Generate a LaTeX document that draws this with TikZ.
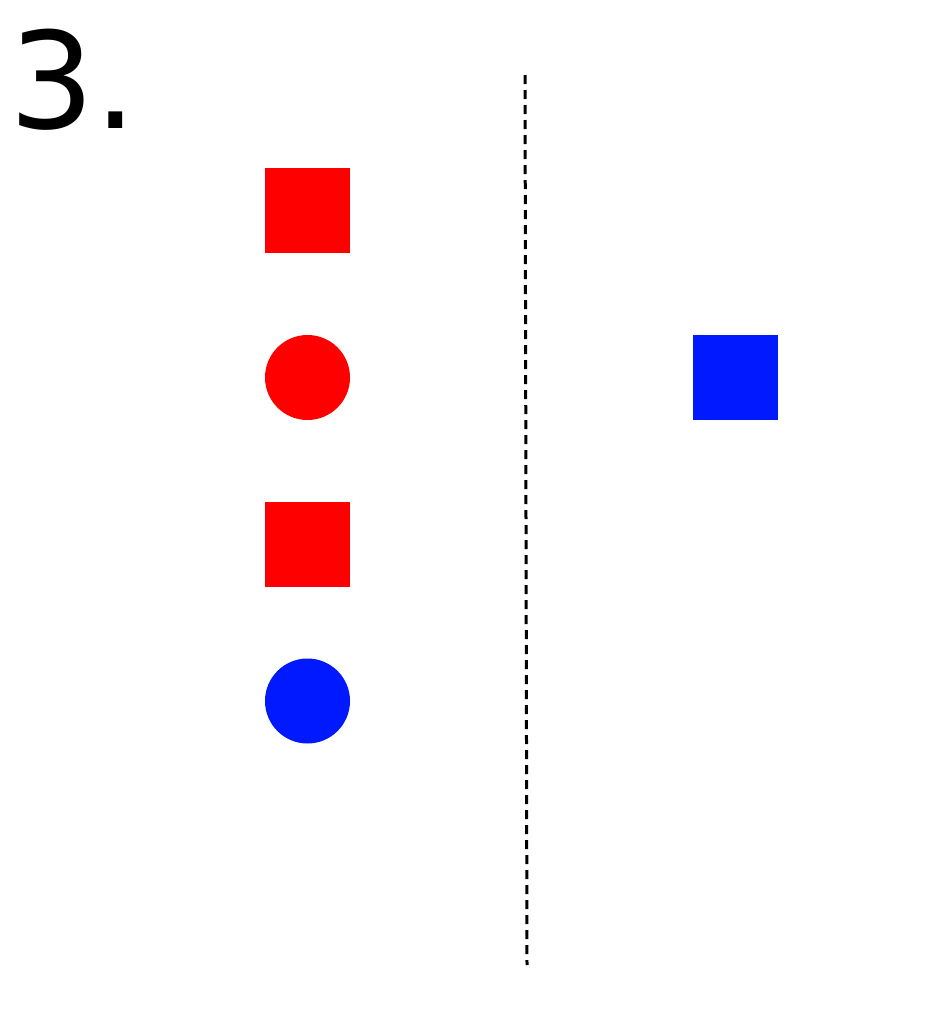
\documentclass[tikz,border=0pt]{standalone}
\usepackage{fontspec}
\setmainfont{DejaVu Sans}
\definecolor{myred}{RGB}{255,0,0}
\definecolor{myblue}{RGB}{0,25,255}
\begin{document}
\begin{tikzpicture}[x=1pt,y=-1pt,
  sq/.style={rectangle,minimum size=85pt,inner sep=0,draw=none},
  circ/.style={circle,minimum size=85pt,inner sep=0,draw=none},
  divider/.style={line width=3pt,dash pattern=on 9pt off 6pt,black}]
\useasboundingbox (0,0) rectangle (940,1012);
\node[anchor=base west,inner sep=0,font=\fontsize{134}{134}\selectfont] (label) at (9,128) {3.};
\coordinate (top) at (525,75);
\coordinate (bot) at (527,965);
\draw[divider] (top) -- (bot);
\node[sq,fill=myred] (s1) at (307.5,210.5) {};
\node[circ,fill=myred] (c1) at (307.5,377.5) {};
\node[sq,fill=myred] (s2) at (307.5,544.5) {};
\node[circ,fill=myblue] (c2) at (307.5,701) {};
\node[sq,fill=myblue] (s3) at (735.5,377.5) {};
\end{tikzpicture}
\end{document}
